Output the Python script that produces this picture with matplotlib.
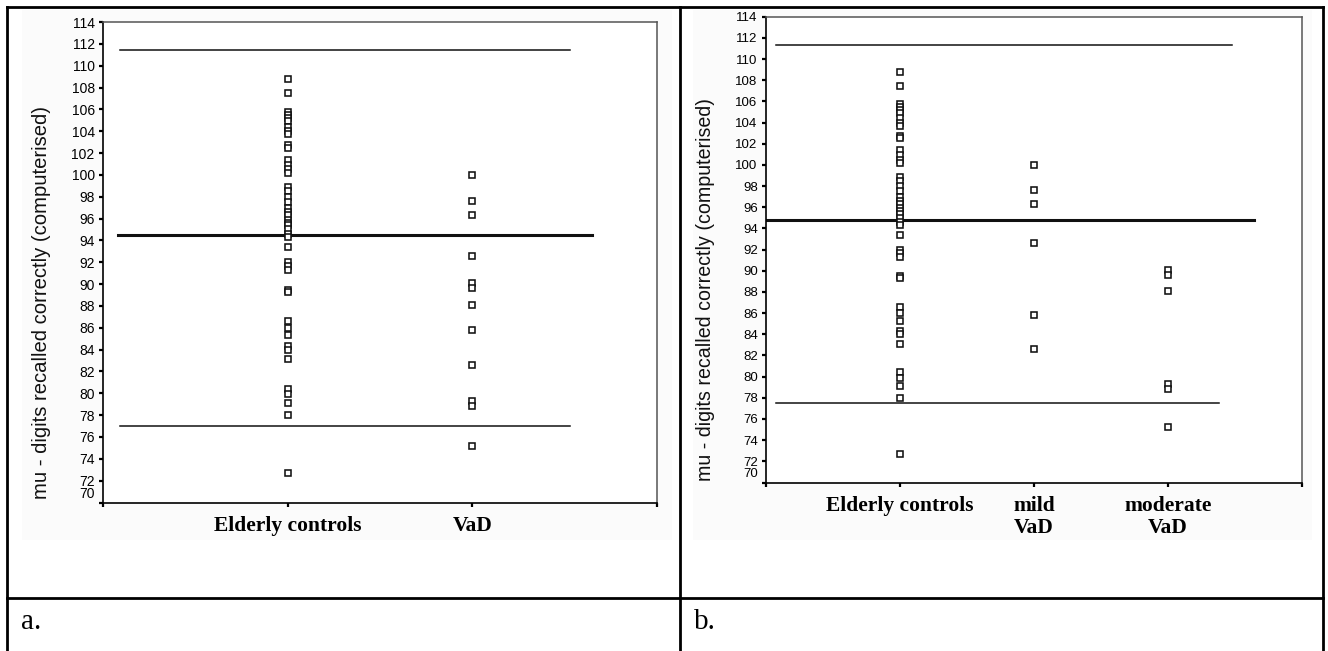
import matplotlib
matplotlib.use("Agg")
import matplotlib.pyplot as plt
import numpy as np
from matplotlib.lines import Line2D
from matplotlib.patches import Rectangle
from matplotlib.transforms import ScaledTranslation

# ---------------- data ----------------
controls = [108.8, 107.5, 105.8, 105.5, 105.2, 104.9, 104.4, 104.0, 103.7,
            102.7, 102.5, 101.4, 100.9, 100.5, 100.2, 98.9, 98.5, 98.0, 97.5,
            97.0, 96.6, 96.3, 95.9, 95.6, 95.4, 95.0, 94.6, 94.3, 93.4,
            92.0, 91.7, 91.3, 89.5, 89.3, 86.6, 86.0, 85.3, 84.3, 84.0, 83.1,
            80.4, 79.9, 79.1, 78.0, 72.7]
vad = [100.0, 97.6, 96.3, 92.6, 90.1, 89.6, 88.1, 85.8, 82.6, 79.3, 78.8, 75.2]
mild_vad = [100.0, 97.6, 96.3, 92.6, 85.8, 82.6]
moderate_vad = [90.1, 89.6, 88.1, 79.3, 78.8, 75.2]

cats_a = ["Elderly controls", "VaD"]
cats_b = ["Elderly controls", "mild\nVaD", "moderate\nVaD"]

# reference lines (upper limit, mean, lower limit)
lines_a = [111.4, 94.5, 77.0]
lines_b = [111.3, 94.8, 77.5]

yticks = list(range(70, 115, 2))
ylabel = "mu - digits recalled correctly (computerised)"
panel_labels = ["a.", "b."]

# ---------------- figure ----------------
W, H = 1328, 651
fig = plt.figure(figsize=(W / 100, H / 100), dpi=100)
fig.patch.set_facecolor("white")


def fx(px):
    return px / W


def fy(py):
    return 1 - py / H


# light chart-area backgrounds
for (x0, x1) in [(22, 672), (693, 1312)]:
    fig.add_artist(Rectangle((fx(x0), fy(540)), fx(x1) - fx(x0), fy(10) - fy(540),
                             transform=fig.transFigure, facecolor="#fbfbfb",
                             edgecolor="none", zorder=0))

# table borders
blw = 2.0
for (xa, ya, xb, yb) in [(7.3, 7.3, 1322.7, 7.3),
                         (7.3, 7.3, 7.3, 651),
                         (1322.7, 7.3, 1322.7, 651),
                         (680, 7.3, 680, 651),
                         (7.3, 597.7, 1322.7, 597.7)]:
    fig.add_artist(Line2D([fx(xa), fx(xb)], [fy(ya), fy(yb)], transform=fig.transFigure,
                          color="black", lw=blw, solid_capstyle="projecting", zorder=5))


def make_panel(rect, cats, groups, lines, spans, ylabel_xy, tick_fs, ylabel_fs):
    ax = fig.add_axes(rect)
    ax.set_facecolor("white")
    n = len(cats)
    for i, vals in enumerate(groups, start=1):
        ax.plot(np.full(len(vals), i), vals, linestyle="none", marker="s",
                ms=4.5, mfc="white", mec="#111111", mew=1.15, zorder=3)
    for val, (x0, x1), lw in zip(lines, spans, [1.1, 2.2, 1.1]):
        ax.plot([x0, x1], [val, val], color="#111111", lw=lw, zorder=2)
    ax.set_xlim(0, n + 1)
    ax.set_ylim(70, 114)
    ax.set_yticks(yticks)
    ax.set_yticklabels([str(t) for t in yticks], fontsize=tick_fs, family="Liberation Sans")
    ax.set_xticks(range(0, n + 2))
    ax.set_xticklabels([""] + cats + [""], fontsize=15.5, family="Liberation Serif",
                       fontweight="bold", va="top", linespacing=1.15)
    ax.tick_params(axis="y", direction="out", length=3, width=1.6, pad=3, color="black")
    ax.tick_params(axis="x", direction="out", length=3, width=1.6, pad=6.5, color="black")
    for s in ["left", "bottom"]:
        ax.spines[s].set_color("black")
        ax.spines[s].set_linewidth(1.2)
    for s in ["top", "right"]:
        ax.spines[s].set_color("#555555")
        ax.spines[s].set_linewidth(1.1)
    # squeeze "70" label upward
    lab70 = ax.get_yticklabels()[0]
    lab70.set_transform(lab70.get_transform() + ScaledTranslation(0, 7 / 72, fig.dpi_scale_trans))
    fig.text(fx(ylabel_xy[0]), fy(ylabel_xy[1]), ylabel, rotation=90,
             ha="center", va="center", fontsize=ylabel_fs, family="Liberation Sans",
             color="#111111")
    return ax


ax_a = make_panel([fx(103), fy(502.5), fx(657) - fx(103), fy(22) - fy(502.5)],
                  cats_a, [controls, vad], lines_a,
                  [(0.09, 2.53), (0.08, 2.65), (0.09, 2.53)], (42, 302), 10, 14.6)
ax_b = make_panel([fx(766), fy(482.5), fx(1302) - fx(766), fy(16.7) - fy(482.5)],
                  cats_b, [controls, mild_vad, moderate_vad], lines_b,
                  [(0.075, 3.48), (0.0, 3.64), (0.075, 3.38)], (705, 290), 9.5, 14.1)

fig.text(fx(21), fy(629), panel_labels[0], fontsize=21, family="Liberation Serif",
         ha="left", va="baseline")
fig.text(fx(694), fy(629), panel_labels[1], fontsize=21, family="Liberation Serif",
         ha="left", va="baseline")

fig.savefig("out.png", dpi=100)
